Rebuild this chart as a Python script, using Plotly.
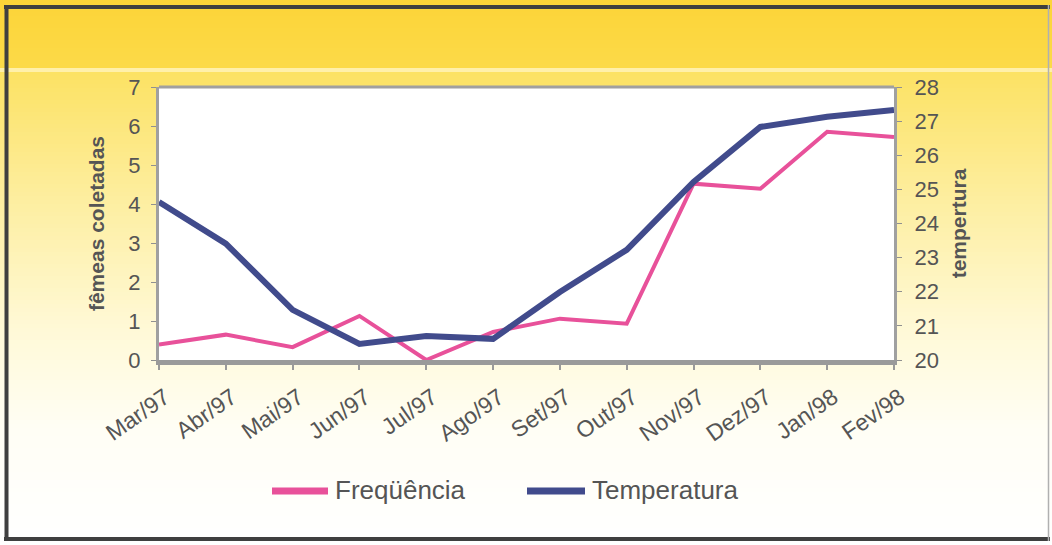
import plotly.graph_objects as go

months = ["Mar/97", "Abr/97", "Mai/97", "Jun/97", "Jul/97", "Ago/97",
          "Set/97", "Out/97", "Nov/97", "Dez/97", "Jan/98", "Fev/98"]
frequencia = [0.40, 0.65, 0.33, 1.13, 0.0, 0.72, 1.06, 0.93, 4.52, 4.39, 5.85, 5.72]
temperatura = [24.63, 23.41, 21.47, 20.47, 20.70, 20.62, 21.99, 23.23, 25.22, 26.83, 27.13, 27.33]
series_names = ["Freqüência", "Temperatura"]
series_colors = ["#e8519a", "#414b8c"]

W, H = 1052, 545
ML, MR, MT, MB = 159, 158, 87, 185
PW, PH = W - ML - MR, H - MT - MB

FONT = "Liberation Sans, Arial, sans-serif"
TXT = "#555555"

def px2paper_x(px):
    return (px - ML) / PW

def px2paper_y(py):
    return (H - MB - py) / PH

def mix(c1, c2, t):
    return "rgb(%d,%d,%d)" % tuple(round(a + (b - a) * t) for a, b in zip(c1, c2))

shapes = []
# background gradient bands
stops = [(0, (252, 212, 55)), (66, (252, 218, 72)), (70, (255, 240, 170)),
         (74, (252, 226, 100)), (200, (253, 238, 160)), (330, (255, 249, 215)),
         (430, (255, 254, 245)), (545, (255, 255, 255))]
y = 0
step = 4
while y < H:
    yc = y + step / 2
    for (y0, c0), (y1, c1) in zip(stops[:-1], stops[1:]):
        if y0 <= yc <= y1:
            col = mix(c0, c1, (yc - y0) / (y1 - y0) if y1 > y0 else 0)
            break
    shapes.append(dict(type="rect", xref="paper", yref="paper", layer="below",
                       x0=px2paper_x(0), x1=px2paper_x(W),
                       y0=px2paper_y(y + step + 0.5), y1=px2paper_y(y),
                       fillcolor=col, line=dict(width=0)))
    y += step
# white plot area
shapes.append(dict(type="rect", xref="paper", yref="paper", layer="below",
                   x0=0, x1=1, y0=0, y1=1, fillcolor="white", line=dict(width=0)))
# top border of plot area
shapes.append(dict(type="line", xref="paper", yref="paper", layer="above",
                   x0=0, x1=1, y0=1, y1=1, line=dict(color="#a0a0a0", width=3)))
# outer frame
frame = "#3f3f3f"
shapes += [
    dict(type="line", xref="paper", yref="paper", x0=px2paper_x(4), x1=px2paper_x(1050),
         y0=px2paper_y(7), y1=px2paper_y(7), line=dict(color=frame, width=4)),
    dict(type="line", xref="paper", yref="paper", x0=px2paper_x(6.5), x1=px2paper_x(6.5),
         y0=px2paper_y(5), y1=px2paper_y(541), line=dict(color=frame, width=4)),
    dict(type="line", xref="paper", yref="paper", x0=px2paper_x(4), x1=px2paper_x(1050),
         y0=px2paper_y(539), y1=px2paper_y(539), line=dict(color=frame, width=4)),
    dict(type="line", xref="paper", yref="paper", x0=px2paper_x(1048.5), x1=px2paper_x(1048.5),
         y0=px2paper_y(5), y1=px2paper_y(541), line=dict(color="#b0b0b0", width=1.5)),
]

# custom legend (long line samples like the original)
annotations = []
leg_y = 490
for (x0, x1, tx), name, col in zip([(272, 328, 333), (527, 585, 590)], series_names, series_colors):
    shapes.append(dict(type="line", xref="paper", yref="paper",
                       x0=px2paper_x(x0), x1=px2paper_x(x1),
                       y0=px2paper_y(leg_y + 1), y1=px2paper_y(leg_y + 1),
                       line=dict(color=col, width=7)))
    annotations.append(dict(text=name, xref="paper", yref="paper", showarrow=False,
                            x=px2paper_x(tx), y=px2paper_y(leg_y), xanchor="left", yanchor="middle",
                            font=dict(size=26, color=TXT, family=FONT)))

fig = go.Figure()
fig.add_trace(go.Scatter(x=months, y=frequencia, name=series_names[0], mode="lines",
                         line=dict(color=series_colors[0], width=4), yaxis="y"))
fig.add_trace(go.Scatter(x=months, y=temperatura, name=series_names[1], mode="lines",
                         line=dict(color=series_colors[1], width=6), yaxis="y2"))

fig.update_layout(
    width=W, height=H,
    margin=dict(l=ML, r=MR, t=MT, b=MB, pad=0),
    paper_bgcolor="white", plot_bgcolor="rgba(0,0,0,0)",
    font=dict(family=FONT, color=TXT),
    shapes=shapes,
    annotations=annotations,
    showlegend=False,
    xaxis=dict(type="category", range=[0, 11], showgrid=False, zeroline=False,
               showline=True, linecolor="#9a9a9a", linewidth=5,
               ticks="outside", ticklen=5, tickcolor="#9a9a9a", tickwidth=2,
               tickangle=-35, tickfont=dict(size=23, color=TXT),
               ticklabelstandoff=5, ticklabelshift=6),
    yaxis=dict(range=[0, 7], dtick=1, showgrid=False, zeroline=False,
               showline=True, linecolor="#a0a0a0", linewidth=3,
               ticks="outside", ticklen=5, tickcolor="#909090",
               tickfont=dict(size=22, color=TXT), ticklabelstandoff=6,
               title=dict(text="<b>fêmeas coletadas</b>", font=dict(size=21, color=TXT), standoff=18)),
    yaxis2=dict(range=[20, 28], dtick=1, overlaying="y", side="right", showgrid=False,
                zeroline=False, showline=True, linecolor="#a0a0a0", linewidth=3,
                ticks="outside", ticklen=5, tickcolor="#909090",
                tickfont=dict(size=22, color=TXT), ticklabelstandoff=8,
                title=dict(text="<b>tempertura</b>", font=dict(size=21, color=TXT), standoff=14)),
)

fig.write_html("out.html", config={"displayModeBar": False},
               post_script="document.body.style.margin='0';")
